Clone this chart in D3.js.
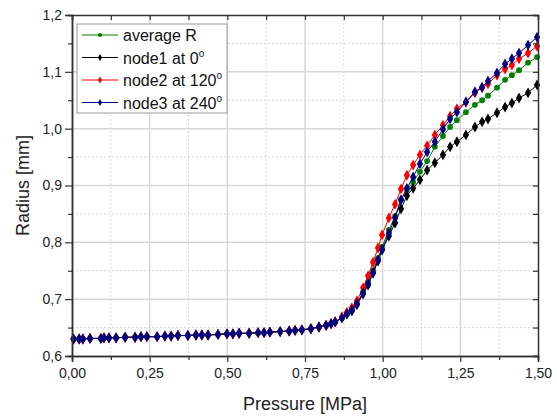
<!DOCTYPE html>
<html>
<head>
<meta charset="utf-8">
<script src="https://cdn.jsdelivr.net/npm/d3@7"></script>
<style>
  body { margin: 0; background: #fff; }
  svg { display: block; font-family: Arial, "Liberation Sans", sans-serif; }
</style>
</head>
<body>
<svg id="chart" width="557" height="417"></svg>
<script>
// pressure samples [MPa], shared by all series
const pressure = [
  0.005, 0.023, 0.035, 0.058, 0.093, 0.103, 0.119, 0.142, 0.171, 0.203,
  0.222, 0.241, 0.274, 0.299, 0.319, 0.341, 0.373, 0.399, 0.418, 0.438,
  0.470, 0.499, 0.518, 0.538, 0.570, 0.599, 0.618, 0.637, 0.670, 0.699,
  0.718, 0.740, 0.769, 0.795, 0.818, 0.834, 0.847,
  0.869, 0.885, 0.901, 0.917, 0.937, 0.953, 0.969, 0.985, 0.998, 1.020,
  1.040, 1.059, 1.078, 1.098, 1.120, 1.143, 1.168, 1.194, 1.217, 1.239,
  1.268, 1.297, 1.320, 1.339, 1.368, 1.394, 1.416, 1.439, 1.468, 1.497
];

// below ~0.85 MPa all four curves lie on top of each other
const lowR = [
  0.630, 0.630, 0.630, 0.631, 0.631, 0.632, 0.632, 0.632, 0.633, 0.633,
  0.634, 0.634, 0.634, 0.635, 0.635, 0.636, 0.636, 0.637, 0.637, 0.637,
  0.638, 0.639, 0.639, 0.640, 0.640, 0.641, 0.641, 0.642, 0.643, 0.644,
  0.645, 0.646, 0.648, 0.651, 0.654, 0.657, 0.660
];

const avgR = lowR.concat([
  0.667, 0.674, 0.681, 0.692, 0.713, 0.730, 0.751, 0.772, 0.792, 0.822,
  0.846, 0.875, 0.892, 0.906, 0.924, 0.943, 0.968, 0.987, 1.003, 1.015,
  1.029, 1.042, 1.050, 1.058, 1.072, 1.086, 1.094, 1.103, 1.116, 1.126
]);
const node1R = lowR.concat([
  0.667, 0.674, 0.679, 0.690, 0.709, 0.725, 0.746, 0.767, 0.787, 0.811,
  0.834, 0.859, 0.882, 0.895, 0.910, 0.927, 0.940, 0.954, 0.968, 0.977,
  0.989, 1.003, 1.012, 1.017, 1.028, 1.038, 1.045, 1.054, 1.063, 1.077
]);
const node2R = lowR.concat([
  0.669, 0.677, 0.685, 0.697, 0.720, 0.741, 0.765, 0.790, 0.813, 0.843,
  0.867, 0.894, 0.918, 0.936, 0.954, 0.970, 0.989, 1.006, 1.022, 1.035,
  1.047, 1.063, 1.072, 1.079, 1.094, 1.105, 1.112, 1.123, 1.133, 1.145
]);
const node3R = lowR.concat([
  0.667, 0.674, 0.681, 0.692, 0.711, 0.727, 0.746, 0.769, 0.787, 0.816,
  0.843, 0.875, 0.895, 0.915, 0.938, 0.959, 0.977, 0.999, 1.017, 1.029,
  1.047, 1.065, 1.073, 1.084, 1.098, 1.114, 1.123, 1.133, 1.147, 1.161
]);

const xTicks = [0, 0.25, 0.5, 0.75, 1.0, 1.25, 1.5];
const xMinor = [0.125, 0.375, 0.625, 0.875, 1.125, 1.375];
const yTicks = [0.6, 0.7, 0.8, 0.9, 1.0, 1.1, 1.2];
const yMinor = [0.65, 0.75, 0.85, 0.95, 1.05, 1.15];

const series = [
  { label: ["average R"], values: avgR, color: "#008000", symbol: d3.symbolCircle, size: 26 },
  { label: ["node1 at 0", "o"], values: node1R, color: "#000000", symbol: d3.symbolDiamond, size: 34 },
  { label: ["node2 at 120", "o"], values: node2R, color: "#ff0000", symbol: d3.symbolDiamond, size: 34 },
  { label: ["node3 at 240", "o"], values: node3R, color: "#000080", symbol: d3.symbolDiamond, size: 34 }
];

const W = 557, H = 417;
const margin = { top: 15, right: 19, bottom: 61, left: 72 };
const iw = W - margin.left - margin.right;
const ih = H - margin.top - margin.bottom;

const svg = d3.select("#chart");
const g = svg.append("g").attr("transform", `translate(${margin.left},${margin.top})`);

const x = d3.scaleLinear().domain([0, 1.5]).range([0, iw]);
const y = d3.scaleLinear().domain([0.6, 1.2]).range([ih, 0]);

const fmtX = (d) => d.toFixed(2).replace(".", ",");
const fmtY = (d) => d.toFixed(1).replace(".", ",");

// grid
const grid = g.append("g");
grid.selectAll(".gxm").data(xMinor).join("line")
  .attr("x1", (d) => x(d)).attr("x2", (d) => x(d)).attr("y1", 0).attr("y2", ih)
  .attr("stroke", "#d6d6d6").attr("stroke-width", 1).attr("stroke-dasharray", "2,2");
grid.selectAll(".gym").data(yMinor).join("line")
  .attr("y1", (d) => y(d)).attr("y2", (d) => y(d)).attr("x1", 0).attr("x2", iw)
  .attr("stroke", "#d6d6d6").attr("stroke-width", 1).attr("stroke-dasharray", "2,2");
grid.selectAll(".gx").data(xTicks.slice(1, -1)).join("line")
  .attr("x1", (d) => x(d)).attr("x2", (d) => x(d)).attr("y1", 0).attr("y2", ih)
  .attr("stroke", "#d8d8d8").attr("stroke-width", 1.5);
grid.selectAll(".gy").data(yTicks.slice(1, -1)).join("line")
  .attr("y1", (d) => y(d)).attr("y2", (d) => y(d)).attr("x1", 0).attr("x2", iw)
  .attr("stroke", "#d8d8d8").attr("stroke-width", 1.5);

// series
const line = d3.line().x((d) => x(d[0])).y((d) => y(d[1]));
series.forEach((s) => {
  const pts = pressure.map((p, i) => [p, s.values[i]]);
  g.append("path").datum(pts)
    .attr("fill", "none").attr("stroke", s.color).attr("stroke-width", 1)
    .attr("d", line);
  g.append("g").selectAll("path").data(pts).join("path")
    .attr("transform", (d) => `translate(${x(d[0])},${y(d[1])})`)
    .attr("d", d3.symbol().type(s.symbol).size(s.size))
    .attr("fill", s.color);
});

// axes
const axisColor = "#333";
function styleAxis(sel, fontSize) {
  sel.select(".domain").attr("stroke", axisColor).attr("stroke-width", 1.5);
  sel.selectAll(".tick line").attr("stroke", axisColor).attr("stroke-width", 1.2);
  sel.selectAll(".tick text").attr("fill", "#222").attr("font-size", fontSize);
}

const xAxis = g.append("g").attr("transform", `translate(0,${ih})`)
  .call(d3.axisBottom(x).tickValues(xTicks).tickFormat(fmtX).tickSizeOuter(0).tickSize(6).tickPadding(6));
styleAxis(xAxis, 14);
const xAxisMinor = g.append("g").attr("transform", `translate(0,${ih})`)
  .call(d3.axisBottom(x).tickValues(xMinor).tickFormat("").tickSizeOuter(0).tickSize(4));
styleAxis(xAxisMinor, 14);

const yAxis = g.append("g")
  .call(d3.axisLeft(y).tickValues(yTicks).tickFormat(fmtY).tickSizeOuter(0).tickSize(7).tickPadding(3));
styleAxis(yAxis, 14);
const yAxisMinor = g.append("g")
  .call(d3.axisLeft(y).tickValues(yMinor).tickFormat("").tickSizeOuter(0).tickSize(4));
styleAxis(yAxisMinor, 14);

const xTop = g.append("g")
  .call(d3.axisTop(x).tickValues(xTicks.concat(xMinor)).tickFormat("").tickSizeOuter(0).tickSize(-5));
styleAxis(xTop, 14);
const yRight = g.append("g").attr("transform", `translate(${iw},0)`)
  .call(d3.axisRight(y).tickValues(yTicks.concat(yMinor)).tickFormat("").tickSizeOuter(0).tickSize(-5));
styleAxis(yRight, 14);

// axis titles
svg.append("text")
  .attr("x", margin.left + iw / 2).attr("y", 410)
  .attr("text-anchor", "middle").attr("font-size", 18).attr("fill", "#222")
  .text("Pressure [MPa]");
svg.append("text")
  .attr("transform", `translate(29,${margin.top + ih / 2}) rotate(-90)`)
  .attr("text-anchor", "middle").attr("font-size", 18).attr("fill", "#222")
  .text("Radius [mm]");

// legend
const legend = svg.append("g").attr("transform", "translate(77,24)");
legend.append("rect")
  .attr("width", 150).attr("height", 89)
  .attr("fill", "#fff").attr("stroke", "#999").attr("stroke-width", 1);
series.forEach((s, i) => {
  const row = legend.append("g").attr("transform", `translate(0,${11 + i * 22.5})`);
  row.append("line").attr("x1", 5).attr("x2", 41).attr("stroke", s.color).attr("stroke-width", 1);
  row.append("path").attr("transform", "translate(23,0)")
    .attr("d", d3.symbol().type(s.symbol).size(14)).attr("fill", s.color);
  const t = row.append("text").attr("x", 46).attr("y", 6)
    .attr("font-size", 16).attr("fill", "#111");
  t.append("tspan").text(s.label[0]);
  if (s.label[1]) {
    t.append("tspan").attr("dy", -7).attr("font-size", 10).text(s.label[1]);
  }
});
</script>
</body>
</html>
